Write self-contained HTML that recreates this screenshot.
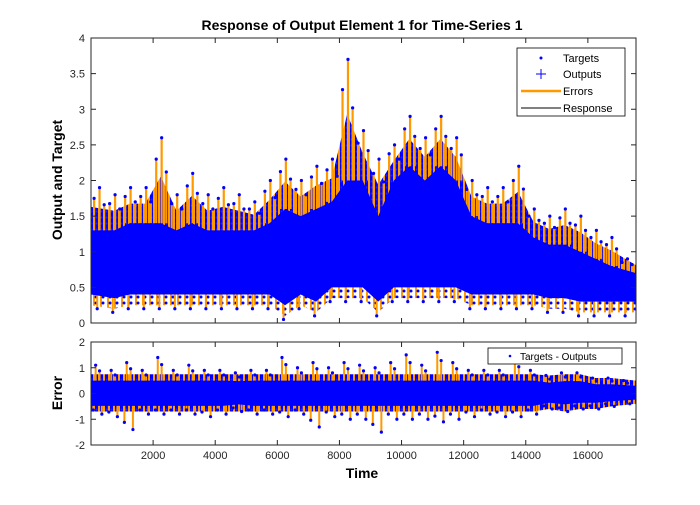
<!DOCTYPE html>
<html><head><meta charset="utf-8"><style>
body{margin:0;background:#fff;width:700px;height:500px;overflow:hidden}
svg{font-family:"Liberation Sans",Arial,sans-serif}
</style></head><body>
<svg id="c" width="700" height="500">
<defs>
<pattern id="mix" width="5" height="6" patternUnits="userSpaceOnUse">
<rect width="5" height="6" fill="#0000ff"/><rect x="3" width="2" height="6" fill="#ff9900"/><circle cx="1.5" cy="1.5" r="1" fill="#2020ff"/>
</pattern>
<pattern id="mixlow" width="7" height="6" patternUnits="userSpaceOnUse">
<rect width="7" height="6" fill="#fff" fill-opacity="0"/><rect x="2" width="2" height="6" fill="#ff9900"/><circle cx="5" cy="3" r="1.5" fill="#0000ff"/>
</pattern>
</defs>
<rect width="700" height="500" fill="#fff"/>
<g id="gtop"></g>
<g id="gbot"></g>
<g id="axes"></g>
<text x="362" y="30" font-size="14" font-weight="bold" text-anchor="middle">Response of Output Element 1 for Time-Series 1</text>
<text x="362" y="478" font-size="14" font-weight="bold" text-anchor="middle">Time</text>
<text transform="translate(62,180) rotate(-90)" font-size="14" font-weight="bold" text-anchor="middle">Output and Target</text>
<text transform="translate(62,393) rotate(-90)" font-size="14" font-weight="bold" text-anchor="middle">Error</text>
<g>
<rect x="517" y="48" width="108" height="68" fill="#fff" stroke="#000" stroke-width="0.8"/>
<circle cx="541" cy="58" r="1.5" fill="#00f"/><text x="563" y="62" font-size="11">Targets</text>
<path d="M536 74h10M541 69v10" stroke="#00f"/><text x="563" y="78" font-size="11">Outputs</text>
<path d="M521 91h40" stroke="#ff9900" stroke-width="2.5"/><text x="563" y="95" font-size="11">Errors</text>
<path d="M521 108h40" stroke="#000"/><text x="563" y="112" font-size="11">Response</text>
</g>
<g>
<rect x="488" y="348" width="134" height="16" fill="#fff" stroke="#000" stroke-width="0.8"/>
<circle cx="510" cy="356" r="1.3" fill="#00f"/><text x="520" y="360" font-size="10">Targets - Outputs</text>
</g>
</svg>
<script>
const binStart=[0,500,1000,1500,2000,2500,3000,3500,4000,4500,5000,5500,6000,6500,7000,7500,8000,8500,9000,9500,10000,10500,11000,11500,12000,12500,13000,13500,14000,14500,15000,15500,16000,16500,17000];
const targMax=[1.9,1.8,1.9,1.9,2.6,1.8,2.1,1.8,1.9,1.8,1.7,2.0,2.3,2.0,2.2,2.3,3.7,2.7,2.3,2.5,2.9,2.6,2.9,2.6,2.0,1.9,1.9,2.2,1.6,1.5,1.6,1.5,1.3,1.2,0.9];
const targCore=[1.3,1.3,1.4,1.4,1.4,1.3,1.4,1.3,1.3,1.3,1.3,1.4,1.6,1.5,1.6,1.7,2.0,2.0,1.5,2.0,2.2,2.0,2.2,2.0,1.5,1.4,1.4,1.4,1.2,1.1,1.1,1.0,0.9,0.8,0.7];
const targMin=[0.2,0.15,0.2,0.2,0.2,0.2,0.2,0.2,0.2,0.2,0.2,0.2,0.05,0.2,0.1,0.3,0.3,0.3,0.1,0.3,0.3,0.3,0.3,0.3,0.2,0.2,0.2,0.2,0.2,0.15,0.15,0.1,0.1,0.1,0.1];
const errMax=[1.1,0.9,1.2,0.9,1.4,0.9,1.1,0.9,0.9,0.8,0.9,0.9,1.4,1.0,1.2,1.0,1.2,1.1,1.0,1.2,1.5,1.1,1.6,1.2,0.9,0.9,0.9,1.3,0.9,0.7,0.8,0.8,0.6,0.6,0.5];
const errMin=[-0.8,-0.9,-1.4,-0.8,-0.8,-0.8,-0.8,-0.9,-0.8,-0.7,-0.8,-0.8,-0.9,-0.8,-1.3,-0.9,-1.0,-1.0,-1.5,-1.0,-1.0,-1.0,-1.1,-1.0,-0.9,-0.8,-0.9,-0.9,-0.8,-0.6,-0.7,-0.6,-0.6,-0.5,-0.4];
const xTicks=[2000,4000,6000,8000,10000,12000,14000,16000];
const yTicksTop=[0,0.5,1,1.5,2,2.5,3,3.5,4];
const yTicksBot=[-2,-1,0,1,2];
const binW=500, xMax=17550;
const L=91,R=636,T1=38,B1=323,T2=342,B2=445;
const sx=v=>L+v/xMax*(R-L);
const sy1=v=>B1-v/4*(B1-T1);
const sy2=v=>(T2+B2)/2-v/4*(B2-T2);
const NS="http://www.w3.org/2000/svg";
function mk(p,t,a){const e=document.createElementNS(NS,t);for(const k in a)e.setAttribute(k,a[k]);p.appendChild(e);return e;}
const gTop=document.getElementById('gtop'),gBot=document.getElementById('gbot'),ax=document.getElementById('axes');
const n=binStart.length;
const cx=i=>i===0?L:(i===n-1?R:sx(binStart[i]+binW/2));
function area(g,upper,lower,fill,name){
  let d='M'+binStart.map((b,i)=>cx(i)+' '+upper(i)).join('L');
  for(let i=n-1;i>=0;i--)d+='L'+cx(i)+' '+lower(i);
  const e=mk(g,'path',{d:d+'Z',fill:fill});
  
  
}
// top plot
area(gTop,i=>sy1(targMin[i]+0.25),i=>sy1(targMin[i]+0.05),'url(#mixlow)','low-error-area');
area(gTop,i=>sy1(targCore[i]+0.55*(targMax[i]-targCore[i])),i=>sy1(targCore[i]-0.1),'url(#mix)','error-mixed-area');
binStart.forEach((b,i)=>{
  const x0=sx(b),w=sx(Math.min(b+binW,xMax))-x0;
  [0.2,0.55,0.85].forEach((f,k)=>{
    const top=k===1?targMax[i]:targCore[i]+(targMax[i]-targCore[i])*(k===0?0.75:0.6);
    let e=mk(gTop,'line',{x1:x0+w*f,x2:x0+w*f,y1:sy1(top),y2:sy1(targCore[i]),stroke:'#ff9900','stroke-width':2.2});
    
    
    e=mk(gTop,'circle',{cx:x0+w*f,cy:sy1(top),r:1.6,fill:'#00f'});
    
    
  });
  let e=mk(gTop,'line',{x1:x0+w*0.4,x2:x0+w*0.4,y1:sy1(targMin[i]),y2:sy1(targMin[i]+0.3),stroke:'#ff9900','stroke-width':2});
  
  
  e=mk(gTop,'circle',{cx:x0+w*0.4,cy:sy1(targMin[i]),r:1.6,fill:'#00f'});
  
  
});
area(gTop,i=>sy1(targCore[i]),i=>sy1(targMin[i]+0.2),'#0000ff','target-output-band');
// bottom plot
area(gBot,i=>sy2(Math.min(errMax[i],0.75)),i=>sy2(Math.max(errMin[i],-0.7)),'url(#mix)','error-mixed-area');
binStart.forEach((b,i)=>{
  const x0=sx(b),w=sx(Math.min(b+binW,xMax))-x0;
  [[0.3,errMax[i]],[0.7,errMin[i]],[0.55,errMax[i]*0.8],[0.15,errMin[i]*0.8]].forEach(([f,v])=>{
    let e=mk(gBot,'line',{x1:x0+w*f,x2:x0+w*f,y1:sy2(v),y2:sy2(0),stroke:'#ff9900','stroke-width':2});
    
    
    e=mk(gBot,'circle',{cx:x0+w*f,cy:sy2(v),r:1.6,fill:'#00f'});
    
    
  });
});
area(gBot,i=>sy2(Math.min(0.5,errMax[i]*0.6)),i=>sy2(Math.max(-0.48,errMin[i]*0.6)),'#0000ff','error-band');
[[T1,B1],[T2,B2]].forEach(([t,b])=>{
  mk(ax,'rect',{x:L,y:t,width:R-L,height:b-t,fill:'none',stroke:'#262626','stroke-width':1});
  xTicks.forEach(v=>{mk(ax,'path',{d:`M${sx(v)} ${b}v-5M${sx(v)} ${t}v5`,stroke:'#262626'});});
});
xTicks.forEach(v=>{const e=mk(ax,'text',{x:sx(v),y:B2+14,'font-size':11,'text-anchor':'middle',fill:'#262626'});e.textContent=v;
  
  });
yTicksTop.forEach(v=>{mk(ax,'path',{d:`M${L} ${sy1(v)}h5M${R} ${sy1(v)}h-5`,stroke:'#262626'});
  const e=mk(ax,'text',{x:L-6,y:sy1(v)+4,'font-size':11,'text-anchor':'end',fill:'#262626'});e.textContent=v;
  
  });
yTicksBot.forEach(v=>{mk(ax,'path',{d:`M${L} ${sy2(v)}h5M${R} ${sy2(v)}h-5`,stroke:'#262626'});
  const e=mk(ax,'text',{x:L-6,y:sy2(v)+4,'font-size':11,'text-anchor':'end',fill:'#262626'});e.textContent=v;
  
  });
</script>
</body></html>
